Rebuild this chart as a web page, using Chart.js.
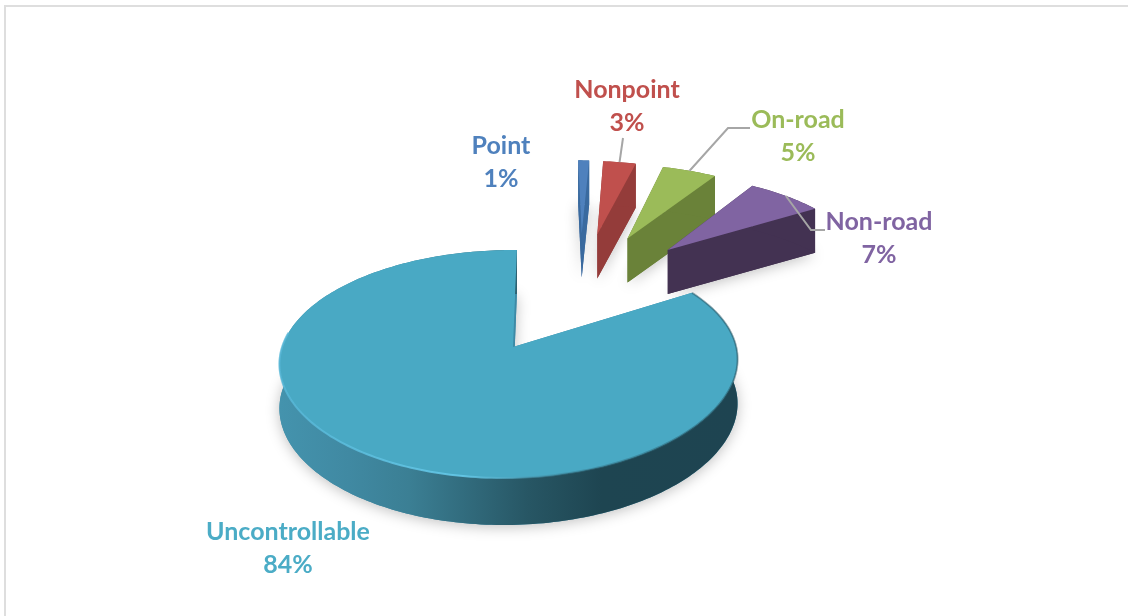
<!DOCTYPE html>
<html>
<head>
<meta charset="utf-8">
<title>Emission sources</title>
<style>
	html, body { margin: 0; padding: 0; background: #fff; overflow: hidden; }
	#frame { position: absolute; left: 4px; top: 5px; width: 1200px; height: 700px; border-top: 2px solid #dedede; border-left: 2px solid #dedede; }
	#graph { position: absolute; left: 0; top: 0; }
</style>
<script src="https://cdn.jsdelivr.net/npm/chart.js@4"></script>
</head>
<body>
<div id="frame"></div>
<canvas id="graph" width="1128" height="616"></canvas>
<script>
var categories = ['Point', 'Nonpoint', 'On-road', 'Non-road', 'Uncontrollable'];
var shares = [1, 3, 5, 7, 84];

var topColours = ['#4f81bd', '#c0504d', '#9bbb59', '#8064a2', '#49a9c4'];
var sideColours = ['#3a6a9f', '#943c3a', '#6a8239', '#433252', '#3d8aa6'];
var labelColours = ['#4f81bd', '#c0504d', '#9bbb59', '#8064a2', '#4bacc6'];

// centre of each two line label
var labelX = [501, 627, 798, 879, 288];
var labelY = [146, 90, 120, 222, 532];
// leader line bends, null where a slice has no leader
var leaders = [
	null,
	[[623, 138]],
	[[728, 128], [750, 128]],
	[[811, 230], [825, 230]],
	null
];

// ground plane of the pie as seen by the camera
var originX = 513, originY = 347;
var scaleX = 227, scaleY = 109.6;
var tilt = 0.13, sideTilt = -0.017;
var skew = -0.04;
var frontStretch = 5;
var depth = 44, frontDepth = 3;

var pieRadius = 200;
var explode = 128;

// turns a point on the pie (radius = 1) into a canvas position plus wall height
function project(u, v, shiftU, shiftV) {
	var x = u - shiftU, y = v - shiftV;
	var w = 1 - tilt * y - sideTilt * x;
	var near = Math.max(0, y);
	var py = scaleY * y / w + frontStretch * near * near;
	return [originX + scaleX * x / w + skew * py, originY + py, depth + frontDepth * near];
}

function tracePath(ctx, points, lower, connect) {
	points.forEach(function(p, i) {
		var y = lower ? p[1] + p[2] : p[1];
		if (i === 0 && !connect) {
			ctx.moveTo(p[0], y);
		} else {
			ctx.lineTo(p[0], y);
		}
	});
}

function sliceGeometry(el, shiftU, shiftV) {
	var d = el.options.offset / el.outerRadius;
	var mid = (el.startAngle + el.endAngle) / 2;
	var cu = Math.cos(mid) * d, cv = Math.sin(mid) * d;
	var steps = Math.max(2, Math.ceil((el.endAngle - el.startAngle) / 0.02));
	var arc = [];
	for (var i = 0; i <= steps; i++) {
		var a = el.startAngle + (el.endAngle - el.startAngle) * i / steps;
		arc.push({ angle: a, p: project(cu + Math.cos(a), cv + Math.sin(a), shiftU, shiftV) });
	}
	return {
		apex: project(cu, cv, shiftU, shiftV),
		arc: arc.map(function(o) { return o.p; }),
		angles: arc.map(function(o) { return o.angle; }),
		midPoint: project(cu + Math.cos(mid), cv + Math.sin(mid), shiftU, shiftV)
	};
}

function quad(ctx, a, b, colour) {
	ctx.beginPath();
	ctx.moveTo(a[0], a[1]);
	ctx.lineTo(b[0], b[1]);
	ctx.lineTo(b[0], b[1] + b[2]);
	ctx.lineTo(a[0], a[1] + a[2]);
	ctx.closePath();
	ctx.fillStyle = colour;
	ctx.fill();
}

function drawSlice(ctx, el, index, geo) {
	var outline = [geo.apex].concat(geo.arc);
	var isMain = index === shares.length - 1;

	// soft shadow under the slice
	ctx.save();
	ctx.shadowColor = 'rgba(0,0,0,0.25)';
	ctx.shadowBlur = 14;
	ctx.shadowOffsetY = 2;
	ctx.beginPath();
	tracePath(ctx, outline, true);
	ctx.closePath();
	ctx.fillStyle = sideColours[index];
	ctx.fill();
	ctx.restore();

	// flat ends of the slice
	quad(ctx, geo.apex, geo.arc[0], sideColours[index]);
	quad(ctx, geo.apex, geo.arc[geo.arc.length - 1], sideColours[index]);

	// curved wall
	var wall = sideColours[index];
	if (isMain) {
		wall = ctx.createLinearGradient(280, 0, 740, 0);
		wall.addColorStop(0, '#4493ad');
		wall.addColorStop(0.15, '#4089a2');
		wall.addColorStop(0.28, '#3b7f94');
		wall.addColorStop(0.54, '#275664');
		wall.addColorStop(0.7, '#1e4551');
		wall.addColorStop(1, '#1e4451');
	}
	ctx.beginPath();
	tracePath(ctx, geo.arc, false);
	tracePath(ctx, geo.arc.slice().reverse(), true, true);
	ctx.closePath();
	ctx.fillStyle = wall;
	ctx.fill();

	// top face
	ctx.beginPath();
	tracePath(ctx, outline, false);
	ctx.closePath();
	ctx.fillStyle = el.options.backgroundColor;
	ctx.fill();

	if (isMain) {
		drawRim(ctx, geo);
	}
}

// bright bevel along the front edge, going dark on the right
function drawRim(ctx, geo) {
	var rim = ctx.createLinearGradient(280, 0, 740, 0);
	rim.addColorStop(0, 'rgba(88,184,216,0.8)');
	rim.addColorStop(0.4, 'rgba(104,204,236,0.85)');
	rim.addColorStop(0.62, 'rgba(60,130,150,0.5)');
	rim.addColorStop(1, 'rgba(38,84,98,0.5)');
	var front = geo.arc.filter(function(p, i) {
		var a = geo.angles[i];
		return !(Math.cos(a) < 0 && Math.sin(a) < -0.15);
	});
	ctx.beginPath();
	tracePath(ctx, front, false);
	ctx.strokeStyle = rim;
	ctx.lineWidth = 2;
	ctx.stroke();
}

function drawLabels(ctx, arcs, geos) {
	ctx.textAlign = 'center';
	ctx.textBaseline = 'middle';
	ctx.font = 'bold 25px Lato';
	arcs.forEach(function(el, i) {
		if (leaders[i]) {
			ctx.beginPath();
			tracePath(ctx, [geos[i].midPoint].concat(leaders[i]), false);
			ctx.strokeStyle = '#a6a6a6';
			ctx.lineWidth = 2;
			ctx.stroke();
		}
		ctx.fillStyle = labelColours[i];
		ctx.fillText(categories[i], labelX[i], labelY[i]);
		ctx.fillText(shares[i] + '%', labelX[i], labelY[i] + 33);
	});
}

// replaces the flat arcs with an extruded pie in perspective
var perspectivePie = {
	id: 'perspectivePie',
	beforeDatasetsDraw: function(chart) {
		var ctx = chart.ctx;
		var arcs = chart.getDatasetMeta(0).data;
		var main = arcs[arcs.length - 1];
		var mid = (main.startAngle + main.endAngle) / 2;
		var shift = main.options.offset / main.outerRadius;
		var shiftU = Math.cos(mid) * shift, shiftV = Math.sin(mid) * shift;
		var geos = arcs.map(function(el) {
			return sliceGeometry(el, shiftU, shiftV);
		});
		ctx.save();
		arcs.forEach(function(el, i) {
			drawSlice(ctx, el, i, geos[i]);
		});
		drawLabels(ctx, arcs, geos);
		ctx.restore();
		return false;
	}
};

new Chart(document.getElementById('graph'), {
	type: 'pie',
	data: {
		labels: categories,
		datasets: [{
			data: shares,
			backgroundColor: topColours,
			offset: explode,
			borderWidth: 0
		}]
	},
	options: {
		responsive: false,
		animation: false,
		radius: pieRadius,
		rotation: 0,
		plugins: {
			legend: { display: false },
			tooltip: { enabled: false }
		}
	},
	plugins: [perspectivePie]
});
</script>
</body>
</html>
